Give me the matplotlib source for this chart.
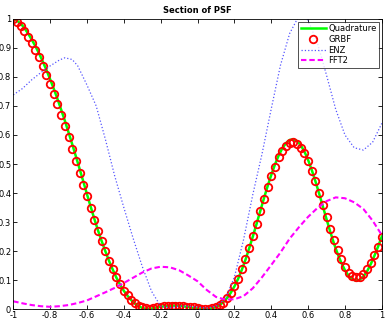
import matplotlib
matplotlib.use("Agg")
import matplotlib.pyplot as plt
import numpy as np

# sample grid of the GRBF / quadrature curves
x_grid = np.round(np.arange(-1, 1.0001, 0.02), 2)

grbf = [1.000, 0.989, 0.976, 0.959, 0.939, 0.917, 0.893, 0.867, 0.838, 0.808,
        0.775, 0.740, 0.706, 0.669, 0.631, 0.593, 0.553, 0.512, 0.470, 0.429,
        0.389, 0.347, 0.308, 0.270, 0.234, 0.200, 0.167, 0.137, 0.109, 0.085,
        0.064, 0.047, 0.032, 0.021, 0.011, 0.006, 0.003, 0.002, 0.004, 0.006,
        0.008, 0.010, 0.011, 0.011, 0.011, 0.011, 0.010, 0.009, 0.008, 0.006,
        0.004, 0.001, 0.000, 0.001, 0.003, 0.007, 0.013, 0.021, 0.037, 0.055,
        0.078, 0.104, 0.137, 0.172, 0.211, 0.251, 0.294, 0.338, 0.381, 0.421,
        0.458, 0.491, 0.525, 0.546, 0.563, 0.573, 0.576, 0.569, 0.556, 0.537,
        0.512, 0.477, 0.440, 0.401, 0.360, 0.317, 0.276, 0.238, 0.202, 0.171,
        0.145, 0.125, 0.113, 0.109, 0.111, 0.122, 0.138, 0.159, 0.185, 0.215,
        0.248]

quad = [1.000, 0.994, 0.984, 0.969, 0.950, 0.929, 0.906, 0.881, 0.853, 0.824,
        0.792, 0.759, 0.724, 0.687, 0.649, 0.609, 0.568, 0.526, 0.483, 0.440,
        0.396, 0.353, 0.311, 0.271, 0.234, 0.199, 0.166, 0.136, 0.108, 0.084,
        0.063, 0.046, 0.031, 0.019, 0.010, 0.004, 0.001, 0.001, 0.003, 0.006,
        0.008, 0.010, 0.011, 0.012, 0.012, 0.011, 0.010, 0.008, 0.006, 0.004,
        0.002, 0.001, 0.000, 0.001, 0.003, 0.007, 0.014, 0.024, 0.038, 0.056,
        0.078, 0.104, 0.135, 0.170, 0.209, 0.250, 0.293, 0.337, 0.381, 0.423,
        0.462, 0.498, 0.529, 0.554, 0.572, 0.583, 0.585, 0.579, 0.565, 0.543,
        0.514, 0.479, 0.440, 0.398, 0.354, 0.310, 0.267, 0.227, 0.191, 0.160,
        0.134, 0.115, 0.103, 0.098, 0.101, 0.112, 0.130, 0.155, 0.184, 0.216,
        0.250]

enz_x = [-1.0, -0.95, -0.9, -0.85, -0.8, -0.75, -0.72, -0.68, -0.65, -0.6,
         -0.55, -0.5, -0.45, -0.4, -0.35, -0.3, -0.25, -0.2, -0.15, -0.1,
         -0.05, 0.0, 0.05, 0.1, 0.15, 0.2, 0.25, 0.3, 0.35, 0.4, 0.45, 0.5,
         0.55, 0.575, 0.6, 0.65, 0.7, 0.75, 0.8, 0.85, 0.9, 0.95, 1.0]
enz = [0.738, 0.760, 0.790, 0.815, 0.838, 0.858, 0.866, 0.860, 0.838, 0.772,
       0.700, 0.585, 0.460, 0.350, 0.245, 0.147, 0.062, 0.010, 0.005, 0.010,
       0.010, 0.007, 0.004, 0.010, 0.035, 0.110, 0.240, 0.395, 0.535, 0.690,
       0.840, 0.950, 1.010, 1.020, 0.995, 0.918, 0.806, 0.688, 0.600, 0.556,
       0.548, 0.575, 0.640]

fft_x = [-1.0, -0.95, -0.9, -0.85, -0.8, -0.75, -0.7, -0.65, -0.6, -0.55,
         -0.5, -0.45, -0.4, -0.35, -0.3, -0.25, -0.2, -0.15, -0.1, -0.05,
         0.0, 0.05, 0.1, 0.15, 0.2, 0.25, 0.3, 0.35, 0.4, 0.45, 0.5, 0.55,
         0.6, 0.65, 0.7, 0.75, 0.8, 0.85, 0.9, 0.95, 1.0]
fft2 = [0.027, 0.020, 0.014, 0.010, 0.008, 0.010, 0.014, 0.021, 0.030, 0.044,
        0.058, 0.073, 0.090, 0.108, 0.126, 0.140, 0.146, 0.144, 0.134, 0.116,
        0.096, 0.066, 0.042, 0.033, 0.034, 0.045, 0.072, 0.110, 0.152, 0.195,
        0.243, 0.282, 0.318, 0.348, 0.372, 0.385, 0.382, 0.368, 0.345, 0.305,
        0.255]

fig = plt.figure(figsize=(3.9, 3.2), dpi=100)
ax = fig.add_axes([0.034, 0.034, 0.945, 0.907])

ax.plot(x_grid, quad, color="#00ff00", lw=1.8, label="Quadrature")
ax.plot(x_grid, grbf, "o", mfc="none", mec="red", ms=5.4, mew=1.3, label="GRBF")
ax.plot(enz_x, enz, ":", color="#5555ff", lw=0.9, label="ENZ")
ax.plot(fft_x, fft2, color="magenta", lw=1.5, dashes=(2.6, 1.4), label="FFT2")

ax.set_xlim(-1, 1)
ax.set_ylim(0, 1)
ax.set_xticks(np.arange(-1, 1.01, 0.2))
ax.set_xticklabels(["-1", "-0.8", "-0.6", "-0.4", "-0.2", "0", "0.2", "0.4", "0.6", "0.8", "1"])
ax.set_yticks(np.arange(0, 1.01, 0.1))
ax.set_yticklabels(["0", "0.1", "0.2", "0.3", "0.4", "0.5", "0.6", "0.7", "0.8", "0.9", "1"])
ax.tick_params(direction="in", length=3, width=0.6, labelsize=6, pad=1.5,
               top=True, right=True)
for s in ax.spines.values():
    s.set_linewidth(0.6)

ax.set_title("Section of PSF", fontsize=6, fontweight="bold", pad=4)

leg = ax.legend(loc="upper right", fontsize=6, frameon=True, fancybox=False,
                edgecolor="black", handlelength=3.0, borderpad=0.3,
                labelspacing=0.2, handletextpad=0.3, borderaxespad=0.35)
leg.get_frame().set_linewidth(0.6)

fig.savefig("out.png", dpi=100)
